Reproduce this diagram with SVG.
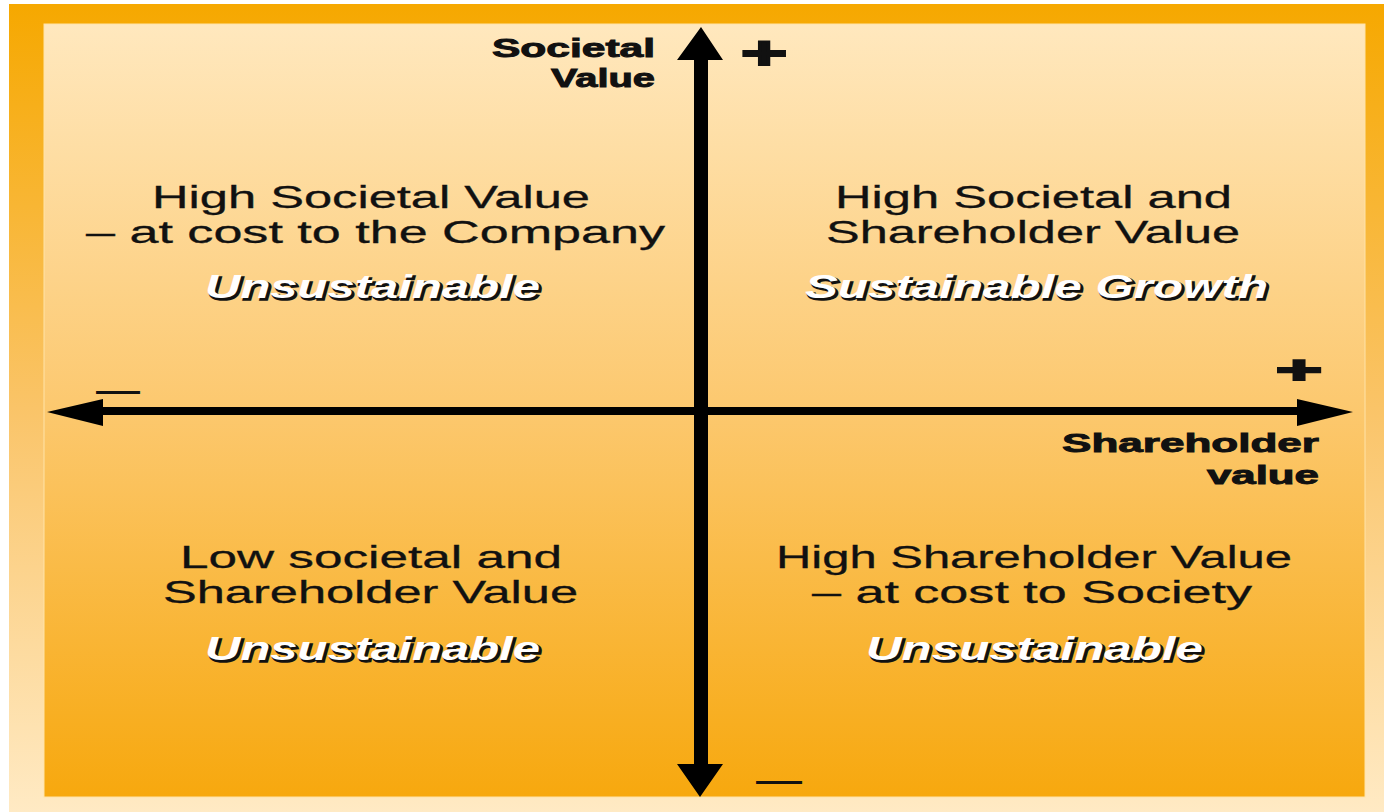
<svg xmlns="http://www.w3.org/2000/svg" width="1384" height="812" viewBox="0 0 1384 812">
<defs>
<linearGradient id="gOuter" x1="0" y1="0" x2="0" y2="1">
<stop offset="0" stop-color="#F6A800"/>
<stop offset="0.5" stop-color="#FAC468"/>
<stop offset="1" stop-color="#FFEAC4"/>
</linearGradient>
<linearGradient id="gInner" x1="0" y1="0" x2="0" y2="1">
<stop offset="0" stop-color="#FFE8BE"/>
<stop offset="0.5" stop-color="#FCC86E"/>
<stop offset="1" stop-color="#F7A80E"/>
</linearGradient>
<style>
.axis{font-family:"Liberation Sans",Arial,sans-serif;font-weight:bold;fill:#111;stroke:#111;stroke-width:0.9;}
.q{font-family:"Liberation Sans",Arial,sans-serif;font-size:32px;fill:#111;stroke:#111;stroke-width:0.3;}
.tag{font-family:"Liberation Sans",Arial,sans-serif;font-size:33px;font-weight:bold;font-style:italic;}
.sh{fill:#111;stroke:#111;stroke-width:1.5;}
.hl{fill:#fff;}
.sign{font-family:"Liberation Sans",Arial,sans-serif;font-weight:bold;fill:#111;stroke:#111;}
.minus{font-family:"Liberation Sans",Arial,sans-serif;fill:#111;}
.arrow{fill:#000;}
</style>
</defs>
<rect x="0" y="0" width="1384" height="812" fill="#ffffff"/>
<rect x="9" y="4" width="1375" height="808" fill="url(#gOuter)"/>
<rect x="44" y="24" width="1321" height="773" fill="url(#gInner)" stroke="#FFE3A8" stroke-width="1"/>

<g id="connectors">
<path class="arrow" d="M694,60 L677,60 L701,27 L723,60 L708,60 L708,764 L723,764 L700,797 L677,764 L694,764 Z"/>
<path class="arrow" d="M103,407 L103,399 L47,412 L103,426 L103,415 L1297,415 L1297,426 L1353,412 L1297,399 L1297,407 Z"/>
</g>

<g id="axis-y-label">
<text class="axis" font-size="25" x="492" y="57" textLength="163" lengthAdjust="spacingAndGlyphs">Societal</text>
<text class="axis" font-size="25" x="551" y="87" textLength="104" lengthAdjust="spacingAndGlyphs">Value</text>
</g>
<g id="axis-x-label">
<text class="axis" font-size="26" x="1062" y="452" textLength="257" lengthAdjust="spacingAndGlyphs">Shareholder</text>
<text class="axis" font-size="26" x="1207" y="484" textLength="112" lengthAdjust="spacingAndGlyphs">value</text>
</g>

<g id="signs">
<text class="sign" font-size="46" stroke-width="2" text-anchor="middle" transform="translate(764,53) scale(1.74,1)" x="0" y="16">+</text>
<text class="sign" font-size="38" stroke-width="2" text-anchor="middle" transform="translate(1299,370) scale(2.1,1)" x="0" y="13">+</text>
<text class="minus" font-size="44" x="96" y="404" textLength="44" lengthAdjust="spacingAndGlyphs">—</text>
<text class="minus" font-size="46" x="756" y="794" textLength="46" lengthAdjust="spacingAndGlyphs">—</text>
</g>

<g id="q-top-left">
<text class="q" x="152" y="208" textLength="438" lengthAdjust="spacingAndGlyphs">High Societal Value</text>
<text class="q" x="86" y="243" textLength="579" lengthAdjust="spacingAndGlyphs">– at cost to the Company</text>
<text class="tag sh" x="207" y="300" textLength="335" lengthAdjust="spacingAndGlyphs">Unsustainable</text>
<text class="tag hl" x="205" y="298" textLength="335" lengthAdjust="spacingAndGlyphs">Unsustainable</text>
</g>

<g id="q-top-right">
<text class="q" x="835" y="208" textLength="397" lengthAdjust="spacingAndGlyphs">High Societal and</text>
<text class="q" x="826" y="243" textLength="414" lengthAdjust="spacingAndGlyphs">Shareholder Value</text>
<text class="tag sh" x="807" y="300" textLength="463" lengthAdjust="spacingAndGlyphs">Sustainable Growth</text>
<text class="tag hl" x="805" y="298" textLength="463" lengthAdjust="spacingAndGlyphs">Sustainable Growth</text>
</g>

<g id="q-bottom-left">
<text class="q" x="180" y="568" textLength="382" lengthAdjust="spacingAndGlyphs">Low societal and</text>
<text class="q" x="163" y="603" textLength="415" lengthAdjust="spacingAndGlyphs">Shareholder Value</text>
<text class="tag sh" x="207" y="662" textLength="335" lengthAdjust="spacingAndGlyphs">Unsustainable</text>
<text class="tag hl" x="205" y="660" textLength="335" lengthAdjust="spacingAndGlyphs">Unsustainable</text>
</g>

<g id="q-bottom-right">
<text class="q" x="776" y="568" textLength="516" lengthAdjust="spacingAndGlyphs">High Shareholder Value</text>
<text class="q" x="812" y="603" textLength="440" lengthAdjust="spacingAndGlyphs">– at cost to Society</text>
<text class="tag sh" x="868" y="662" textLength="337" lengthAdjust="spacingAndGlyphs">Unsustainable</text>
<text class="tag hl" x="866" y="660" textLength="337" lengthAdjust="spacingAndGlyphs">Unsustainable</text>
</g>
</svg>
